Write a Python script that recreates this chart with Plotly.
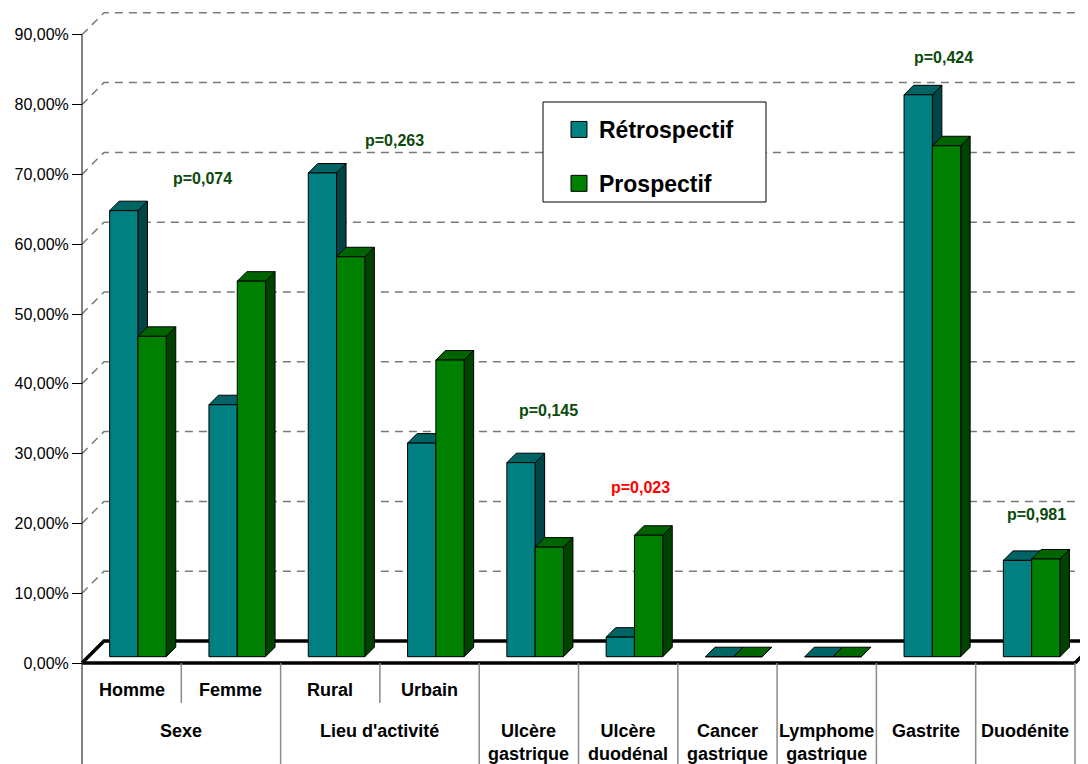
import plotly.graph_objects as go

# ---------------- data ----------------
groups = ["Homme", "Femme", "Rural", "Urbain", "Ulcère gastrique", "Ulcère duodénal",
          "Cancer gastrique", "Lymphome gastrique", "Gastrite", "Duodénite"]
retro = [63.9, 36.1, 69.3, 30.6, 27.8, 2.8, 0.0, 0.0, 80.5, 13.8]
prosp = [45.9, 53.8, 57.3, 42.5, 15.7, 17.4, 0.0, 0.0, 73.2, 14.0]

sub_labels = ["Homme", "Femme", "Rural", "Urbain"]
main_labels = ["Sexe", "Lieu d'activité", "Ulcère<br>gastrique", "Ulcère<br>duodénal",
               "Cancer<br>gastrique", "Lymphome<br>gastrique", "Gastrite", "Duodénite"]
main_spans = [2, 2, 1, 1, 1, 1, 1, 1]

tick_values = [0, 10, 20, 30, 40, 50, 60, 70, 80, 90]
tick_labels = [f"{v:.2f}".replace(".", ",") + "%" for v in tick_values]

p_labels = ["p=0,074", "p=0,263", "p=0,145", "p=0,023", "p=0,424", "p=0,981"]
p_colors = ["#0b4a0b", "#0b4a0b", "#0b4a0b", "#ff0000", "#0b4a0b", "#0b4a0b"]
p_pos_px = [(202, 178), (394, 140), (548, 410), (640, 487), (943, 57), (1036, 514)]

series_names = ["Rétrospectif", "Prospectif"]
front_cols = ["#008080", "#008000"]
top_cols = ["#006464", "#006400"]
side_cols = ["#004646", "#004200"]

# ---------------- geometry (pixel <-> data scale) ----------------
OFF = 8                     # page body margin
W, H = 1088 - OFF, 764 - OFF
L = 62
X0_PX, Y0_PX = 82 - OFF, 663 - OFF   # front-plane origin in figure px
GW = 99.3                   # px per category
PY = 6.98                   # px per percent
FLOOR_D = 22                # floor depth px
BAR_F = 6.3                 # bar front-plane depth px
BAR_D = 9.5                 # bar depth px
BAR_W = 28.3                # bar width px


def dx(px):
    return px / GW


def dy(px):
    return px / PY


def ref_x(px):   # reference-picture px -> data x
    return (px - OFF - X0_PX) / GW


def ref_y(py):   # reference-picture px -> data y
    return (Y0_PX - (py - OFF)) / PY


def paper_x(px):
    return (px - OFF - L) / (W - L)


def paper_y(py):
    return 1 - (py - OFF) / H


x_range = [(L - X0_PX) / GW, (W - X0_PX) / GW]
y_range = [(Y0_PX - H) / PY, Y0_PX / PY]

fig = go.Figure()

# ---------------- back-wall dashed gridlines ----------------
gx, gy = [], []
for v in tick_values[1:]:
    gx += [0, dx(FLOOR_D), x_range[1], None]
    gy += [v, v + dy(FLOOR_D), v + dy(FLOOR_D), None]
fig.add_trace(go.Scatter(x=gx, y=gy, mode="lines", hoverinfo="skip", showlegend=False,
                         line=dict(color="#7a7a7a", width=1.5, dash="8px,6px")))

# ---------------- floor ----------------
n = len(groups)
fx = [0, n, None, 0, dx(FLOOR_D), x_range[1], None, n, n + dx(FLOOR_D)]
fy = [0, 0, None, 0, dy(FLOOR_D), dy(FLOOR_D), None, 0, dy(FLOOR_D)]
fig.add_trace(go.Scatter(x=fx, y=fy, mode="lines", hoverinfo="skip", showlegend=False,
                         line=dict(color="black", width=3.5)))

# ---------------- table lines ----------------
row1_bottom = ref_y(703)
tx, ty = [0, 0, None], [90, y_range[0], None]
fig.add_trace(go.Scatter(x=tx, y=ty, mode="lines", hoverinfo="skip", showlegend=False,
                         line=dict(color="#333333", width=1.2)))
bx, by = [], []
pos = 0
for s in main_spans:
    pos += s
    bx += [pos, pos, None]
    by += [0, y_range[0], None]
for i in range(1, len(sub_labels), 2):
    bx += [i, i, None]
    by += [0, row1_bottom, None]
fig.add_trace(go.Scatter(x=bx, y=by, mode="lines", hoverinfo="skip", showlegend=False,
                         line=dict(color="#8a8a8a", width=1.5)))

# ---------------- 3D bars ----------------
base = dy(BAR_F)
ddx, ddy = dx(BAR_D), dy(BAR_D)
bw = dx(BAR_W)
pair_left = 0.5 - bw  # pair centred in category


def add_poly(xs, ys, color):
    fig.add_trace(go.Scatter(x=xs, y=ys, mode="lines", fill="toself", fillcolor=color,
                             line=dict(color="black", width=1), hoverinfo="skip",
                             showlegend=False))


for k, vals in enumerate([retro, prosp]):
    sx, sy, tpx, tpy, frx, fry = [], [], [], [], [], []
    for i, v in enumerate(vals):
        x0 = i + pair_left + dx(BAR_F) + k * bw
        x1 = x0 + bw
        t = base + v
        sx += [x1, x1 + ddx, x1 + ddx, x1, x1, None]
        sy += [base, base + ddy, t + ddy, t, base, None]
        tpx += [x0, x1, x1 + ddx, x0 + ddx, x0, None]
        tpy += [t, t, t + ddy, t + ddy, t, None]
        frx += [x0, x1, x1, x0, x0, None]
        fry += [base, base, t, t, base, None]
    add_poly(sx, sy, side_cols[k])
    add_poly(tpx, tpy, top_cols[k])
    add_poly(frx, fry, front_cols[k])

# legend entries
for k, name in enumerate(series_names):
    fig.add_trace(go.Scatter(x=[None], y=[None], mode="markers", name=name,
                             legendgroup=name,
                             marker=dict(symbol="square", size=16, color=front_cols[k],
                                         line=dict(color="black", width=1))))

# ---------------- annotations ----------------
ann = []
font_b = dict(family="Liberation Sans, Arial", size=18, color="black")
for i, lab in enumerate(sub_labels):
    ann.append(dict(x=i + 0.5, y=ref_y(690), xref="x", yref="y", text=f"<b>{lab}</b>",
                    showarrow=False, font=font_b, xanchor="center", yanchor="middle"))
pos = 0
for lab, s in zip(main_labels, main_spans):
    ann.append(dict(x=pos + s / 2, y=ref_y(719), xref="x", yref="y",
                    text="<b>" + lab.replace("<br>", "</b><br><b>") + "</b>",
                    showarrow=False, font=font_b, xanchor="center", yanchor="top"))
    pos += s
for lab, col, (px, py) in zip(p_labels, p_colors, p_pos_px):
    ann.append(dict(x=ref_x(px), y=ref_y(py), xref="x", yref="y",
                    text=f"<b>{lab}</b>", showarrow=False,
                    font=dict(family="Liberation Sans, Arial", size=16, color=col),
                    xanchor="center", yanchor="middle"))

# legend frame
shapes = [dict(type="rect", xref="paper", yref="paper", layer="above",
               x0=paper_x(543), x1=paper_x(766), y0=paper_y(202), y1=paper_y(102),
               fillcolor="white", line=dict(color="black", width=1))]

fig.update_layout(
    width=W, height=H,
    margin=dict(l=L, r=0, t=0, b=0, pad=0, autoexpand=False),
    paper_bgcolor="white", plot_bgcolor="white",
    font=dict(family="Liberation Sans, Arial", size=16, color="black"),
    xaxis=dict(range=x_range, visible=False, fixedrange=True),
    yaxis=dict(range=y_range, anchor="free", position=(X0_PX - L) / (W - L),
               tickvals=tick_values, ticktext=tick_labels, ticks="outside", ticklen=10,
               tickcolor="black", tickwidth=1, showgrid=False, zeroline=False,
               showline=False, tickfont=dict(size=16, color="black"), fixedrange=True),
    legend=dict(x=paper_x(559), y=paper_y(108), xanchor="left", yanchor="top",
                bgcolor="rgba(0,0,0,0)", borderwidth=0,
                font=dict(family="Liberation Sans, Arial", size=23, color="black", weight="bold"),
                tracegroupgap=21, itemsizing="trace"),
    annotations=ann,
    shapes=shapes,
    showlegend=True,
)

fig.write_html("out.html")
